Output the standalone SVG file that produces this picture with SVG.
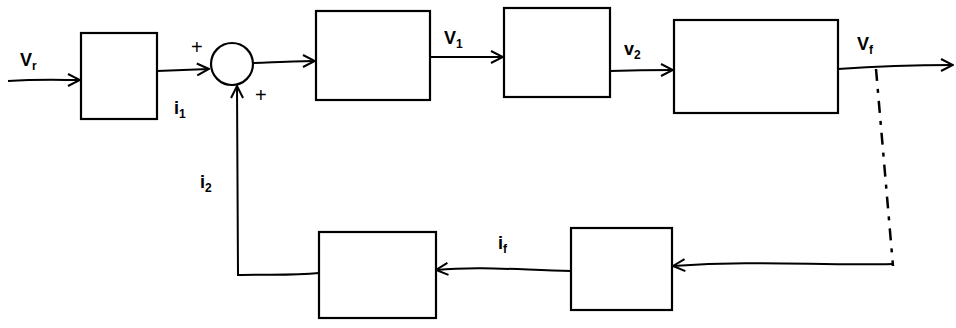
<svg xmlns="http://www.w3.org/2000/svg" width="956" height="328" viewBox="0 0 956 328">
<style>
.blk{fill:none;stroke:#000;stroke-width:2.2}
.ln{fill:none;stroke:#000;stroke-width:2}
.dash{fill:none;stroke:#000;stroke-width:2.5;stroke-dasharray:12 8 4 8}
.lbl{font-family:"Liberation Sans",Arial,sans-serif;font-size:18px;font-weight:bold;fill:#000}
.sub{font-size:12px}
.sgn{font-family:"Liberation Sans",Arial,sans-serif;font-size:20px;fill:#000}
</style>
<defs>
<marker id="arr" viewBox="0 0 14 14" refX="13" refY="7" markerWidth="14" markerHeight="14" markerUnits="userSpaceOnUse" orient="auto">
<polyline points="1,1 13,7 1,13" fill="none" stroke="#000" stroke-width="2"/>
</marker>
</defs>
<g id="b1"><rect class="blk" x="81" y="33" width="76" height="86"/></g>
<g id="sum"><circle class="blk" cx="232" cy="64" r="21"/>
<text class="sgn" x="191" y="54">+</text>
<text class="sgn" x="255" y="102">+</text></g>
<g id="b2"><rect class="blk" x="316" y="11" width="114" height="89"/></g>
<g id="b3"><rect class="blk" x="504" y="8" width="106" height="89"/></g>
<g id="b4"><rect class="blk" x="674" y="20" width="164" height="93"/></g>
<g id="b5"><rect class="blk" x="571" y="228" width="101" height="82"/></g>
<g id="b6"><rect class="blk" x="319" y="232" width="117" height="86"/></g>
<g id="connectors">
<path class="ln" d="M8,81 C40,79 60,80 80,80" marker-end="url(#arr)"/>
<path class="ln" d="M157,71 L209,69" marker-end="url(#arr)"/>
<path class="ln" d="M253,63 C280,62 300,61 315,61" marker-end="url(#arr)"/>
<path class="ln" d="M430,57 L503,57" stroke-width="3" marker-end="url(#arr)"/>
<path class="ln" d="M610,71 C640,70 655,70 673,70" marker-end="url(#arr)"/>
<path class="ln" d="M838,69 C880,66 920,65 953,65" marker-end="url(#arr)"/>
<path class="dash" d="M876,69 L893,266"/>
<path class="ln" d="M893,264 C820,266 760,260 673,266" marker-end="url(#arr)"/>
<path class="ln" d="M571,271 C520,270 480,266 436,270" marker-end="url(#arr)"/>
<path class="ln" d="M319,273 C290,276 260,274 238,275 L237,86" stroke-width="2.5" marker-end="url(#arr)"/>
</g>
<g id="labels">
<text class="lbl" x="20" y="66">V<tspan class="sub" dy="4">r</tspan></text>
<text class="lbl" x="174" y="114">i<tspan class="sub" dy="4">1</tspan></text>
<text class="lbl" x="444" y="44">V<tspan class="sub" dy="4">1</tspan></text>
<text class="lbl" x="624" y="55">v<tspan class="sub" dy="4">2</tspan></text>
<text class="lbl" x="857" y="50">V<tspan class="sub" dy="4">f</tspan></text>
<text class="lbl" x="200" y="188">i<tspan class="sub" dy="4">2</tspan></text>
<text class="lbl" x="498" y="249">i<tspan class="sub" dy="4">f</tspan></text>
</g>
</svg>
